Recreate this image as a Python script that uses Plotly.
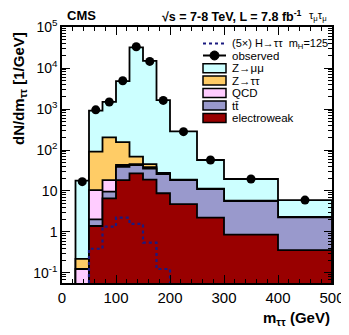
import numpy as np
import plotly.graph_objects as go

# bin edges in m_tautau (GeV)
edges = [25, 50, 75, 100, 125, 150, 175, 200, 250, 300, 400, 500]

# background components (dN/dm, 1/GeV), stacked bottom -> top
electroweak = [0, 1.4, 6.6, 18.5, 27, 19, 8.8, 4.8, 2.23, 0.86, 0.36]
ttbar = [0, 0.64, 3.0, 20.5, 16, 16, 17.2, 13.7, 8.97, 4.84, 1.92]
qcd = [0.125, 8.46, 8.9, 4, 2, 3, 0.5, 0.2, 0.1, 0.05, 0.02]
ztautau = [0.095, 80.5, 185.5, 112, 24, 7, 1, 0.3, 0.1, 0.05, 0.02]
zmumu = [17.6, 819, 1296, 4645, 31930, 14955, 1622, 266, 45.6, 13.8, 3.7]

observed = [16.9, 955, 1480, 4900, 33000, 14500, 1620, 280, 57, 19.6, 6.0]
higgs_5x = [0, 0.39, 1.35, 2.23, 1.57, 0.55, 0.125, 0, 0, 0, 0]

names = ["electroweak", "t\u0074\u0304", "QCD", "Z\u2192\u03c4\u03c4", "Z\u2192\u03bc\u03bc"]
colors = ["#990000", "#9999cc", "#ffccff", "#ffcc66", "#ccffff"]

FLOOR = 1e-3
FONT = "Liberation Sans, Arial, sans-serif"

# plot area in window pixels; the page body adds an 8px margin
L, R, T, B = 62, 332, 27, 283
W, H, PAD = 349, 335, 8


def px(x):
    return (x - L) / (R - L)


def py(y):
    return (B - y) / (B - T)


def step_polygon(vals):
    """closed step outline from the first to the last non-zero bin"""
    xs, ys = [], []
    nz = [i for i, v in enumerate(vals) if v > 0]
    i0, i1 = nz[0], nz[-1]
    xs.append(edges[i0]); ys.append(FLOOR)
    for i in range(i0, i1 + 1):
        v = vals[i] if vals[i] > 0 else FLOOR
        xs += [edges[i], edges[i + 1]]
        ys += [v, v]
    xs.append(edges[i1 + 1]); ys.append(FLOOR)
    return xs, ys


stack = np.cumsum([electroweak, ttbar, qcd, ztautau, zmumu], axis=0)

fig = go.Figure()

# draw largest level first so smaller ones sit on top
for k in range(len(stack) - 1, -1, -1):
    xs, ys = step_polygon(list(stack[k]))
    fig.add_trace(go.Scatter(
        x=xs, y=ys, mode="lines", fill="toself",
        fillcolor=colors[k], line=dict(color="black", width=1.8),
        showlegend=False, hoverinfo="skip",
    ))

# signal, open step line
hx, hy = step_polygon(higgs_5x)
fig.add_trace(go.Scatter(
    x=hx, y=hy, mode="lines",
    line=dict(color="#1a1a80", width=2.2, dash="dot"),
    showlegend=False, hoverinfo="skip",
))

centers = [(a + b) / 2 for a, b in zip(edges[:-1], edges[1:])]
fig.add_trace(go.Scatter(
    x=centers, y=observed, mode="markers",
    marker=dict(color="black", size=9),
    showlegend=False,
))

# hand-made legend
shapes = []
annotations = []
leg_x0, leg_x1, leg_tx = 203, 226, 230

shapes.append(dict(type="line", xref="paper", yref="paper",
                   x0=px(leg_x0), x1=px(leg_x1), y0=py(43.5), y1=py(43.5),
                   line=dict(color="#1a1a80", width=2, dash="dot")))
annotations.append(dict(text="(5\u00d7) H\u2192\u03c4\u03c4  m<sub>H</sub>=125",
                        x=px(leg_tx), y=py(43.5), font=dict(size=11)))

shapes.append(dict(type="line", xref="paper", yref="paper",
                   x0=px(leg_x0), x1=px(leg_x1), y0=py(55.5), y1=py(55.5),
                   line=dict(color="black", width=2)))
shapes.append(dict(type="circle", xref="paper", yref="paper",
                   x0=px(210), x1=px(219), y0=py(60), y1=py(51),
                   fillcolor="black", line=dict(color="black", width=1)))
annotations.append(dict(text="observed", x=px(leg_tx), y=py(55.5), font=dict(size=11.5)))

box_rows = [68.3, 80.5, 93, 105.5, 118]
for row, k in zip(box_rows, range(len(names) - 1, -1, -1)):
    shapes.append(dict(type="rect", xref="paper", yref="paper",
                       x0=px(leg_x0), x1=px(leg_x1), y0=py(row + 4.5), y1=py(row - 4.5),
                       fillcolor=colors[k], line=dict(color="black", width=1.5)))
    annotations.append(dict(text=names[k], x=px(leg_tx), y=py(row), font=dict(size=11.5)))

for a in annotations:
    a.update(xref="paper", yref="paper", xanchor="left", yanchor="middle",
             showarrow=False)
    a["font"].update(family=FONT, color="black")

# header and axis titles
annotations += [
    dict(text="<b>CMS</b>", x=px(65), y=py(15), xanchor="left", yanchor="middle",
         font=dict(size=13)),
    dict(text="<b>\u221as = 7-8 TeV, L = 7.8 fb<sup>-1</sup></b>", x=px(304), y=py(16),
         xanchor="right", yanchor="middle", font=dict(size=12.5)),
    dict(text="\u03c4<sub>\u03bc</sub>\u03c4<sub>\u03bc</sub>", x=px(307), y=py(16),
         xanchor="left", yanchor="middle", font=dict(size=11)),
    dict(text="<b>dN/dm<sub>\u03c4\u03c4</sub> [1/GeV]</b>", x=px(19), y=py(89),
         xanchor="center", yanchor="middle", textangle=-90, font=dict(size=15)),
    dict(text="<b>m<sub>\u03c4\u03c4</sub> (GeV)</b>", x=1.0, y=py(318),
         xanchor="right", yanchor="middle", font=dict(size=15)),
]
for a in annotations[-5:]:
    a.update(xref="paper", yref="paper", showarrow=False)
    a["font"].update(family=FONT, color="black")

ymaj = [0.1, 1, 10, 100, 1e3, 1e4, 1e5]
ylab = ["10<sup>-1</sup>", "1", "10", "10<sup>2</sup>", "10<sup>3</sup>",
        "10<sup>4</sup>", "10<sup>5</sup>"]
ymin = [m * 10.0 ** e for e in range(-2, 5) for m in range(2, 10)]

fig.update_layout(
    width=W - PAD, height=H - PAD,
    margin=dict(l=L - PAD, r=W - R, t=T - PAD, b=H - B),
    paper_bgcolor="white", plot_bgcolor="white",
    font=dict(family=FONT, color="black"),
    showlegend=False,
    shapes=shapes, annotations=annotations,
    xaxis=dict(
        range=[0, 500], tickvals=[0, 100, 200, 300, 400, 500],
        ticks="inside", ticklen=8, tickwidth=1, tickcolor="black",
        minor=dict(dtick=20, tick0=0, ticks="inside", ticklen=4, tickcolor="black"),
        showline=True, linecolor="black", linewidth=1.5, mirror="ticks",
        showgrid=False, zeroline=False, tickfont=dict(size=15), automargin=False,
    ),
    yaxis=dict(
        type="log", range=[np.log10(0.057), 5],
        tickvals=ymaj, ticktext=ylab,
        ticks="inside", ticklen=8, tickwidth=1, tickcolor="black",
        minor=dict(tickvals=ymin, ticks="inside", ticklen=4, tickcolor="black"),
        showline=True, linecolor="black", linewidth=1.5, mirror="ticks",
        showgrid=False, zeroline=False, tickfont=dict(size=14), automargin=False,
    ),
)

fig.write_html("out.html")
